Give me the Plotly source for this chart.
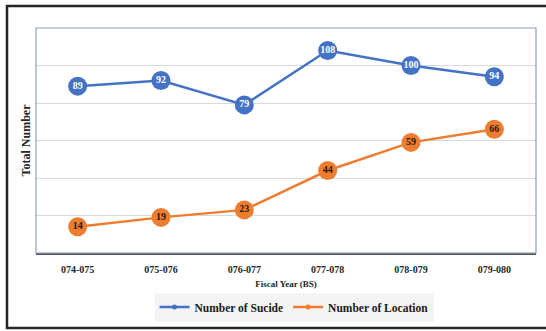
import plotly.graph_objects as go

# Fiscal years (Bikram Sambat) and yearly counts
fiscal_years = ["074-075", "075-076", "076-077", "077-078", "078-079", "079-080"]
suicide_counts = [89, 92, 79, 108, 100, 94]
location_counts = [14, 19, 23, 44, 59, 66]

BLUE = "#4472C4"
ORANGE = "#ED7D31"
SERIF = "Liberation Serif"

fig = go.Figure()

# Main series with value labels inside the markers
fig.add_trace(go.Scatter(
    x=fiscal_years, y=suicide_counts, mode="lines+markers+text",
    text=[str(v) for v in suicide_counts], textposition="middle center",
    textfont=dict(family=SERIF, size=10, color="white", weight="bold"),
    line=dict(color=BLUE, width=2.5),
    marker=dict(size=19, color=BLUE),
    showlegend=False, cliponaxis=False,
))
fig.add_trace(go.Scatter(
    x=fiscal_years, y=location_counts, mode="lines+markers+text",
    text=[str(v) for v in location_counts], textposition="middle center",
    textfont=dict(family=SERIF, size=10, color="#2a1a10", weight="bold"),
    line=dict(color=ORANGE, width=2.5),
    marker=dict(size=19, color=ORANGE),
    showlegend=False, cliponaxis=False,
))

# Legend entries with small markers
fig.add_trace(go.Scatter(
    x=[None], y=[None], mode="lines+markers", name="Number of Sucide",
    line=dict(color=BLUE, width=2.5), marker=dict(size=5, color=BLUE),
))
fig.add_trace(go.Scatter(
    x=[None], y=[None], mode="lines+markers", name="Number of Location",
    line=dict(color=ORANGE, width=2.5), marker=dict(size=5, color=ORANGE),
))

fig.update_layout(
    width=546, height=331,
    margin=dict(l=36, r=10, t=28, b=78),
    paper_bgcolor="white", plot_bgcolor="white",
    font=dict(family=SERIF, color="#262626"),
    legend=dict(
        orientation="h", x=0.516, y=-0.24, xanchor="center", yanchor="middle",
        bgcolor="#f4f4f4", font=dict(family=SERIF, size=11.5, color="#1a1a1a", weight="bold"),
        itemwidth=30, tracegroupgap=0,
    ),
    xaxis=dict(
        type="category", range=[-0.5, 5.5], showgrid=False,
        showline=True, linecolor="#595959", linewidth=1.5,
        ticks="", ticklabelstandoff=6,
        tickfont=dict(family=SERIF, size=10, color="#262626", weight="bold"),
        title=dict(text="Fiscal Year (BS)", standoff=7,
                   font=dict(family=SERIF, size=9, color="#262626", weight="bold")),
    ),
    yaxis=dict(
        range=[0, 120], dtick=20, showticklabels=False, ticks="",
        showgrid=True, gridcolor="#d9d9d9", gridwidth=1, zeroline=False,
        title=dict(text="Total Number", standoff=1,
                   font=dict(family=SERIF, size=12, color="#262626", weight="bold")),
    ),
    shapes=[
        # plot area frame
        dict(type="rect", xref="paper", yref="paper", x0=0, x1=1, y0=0, y1=1,
             line=dict(color="#8ea0c0", width=1.2), layer="above"),
        # outer chart border
        dict(type="rect", xref="paper", yref="paper", x0=-0.058, x1=1.04, y0=-0.333, y1=1.098,
             line=dict(color="#262626", width=2.5)),
    ],
)

fig.write_html("out.html")
